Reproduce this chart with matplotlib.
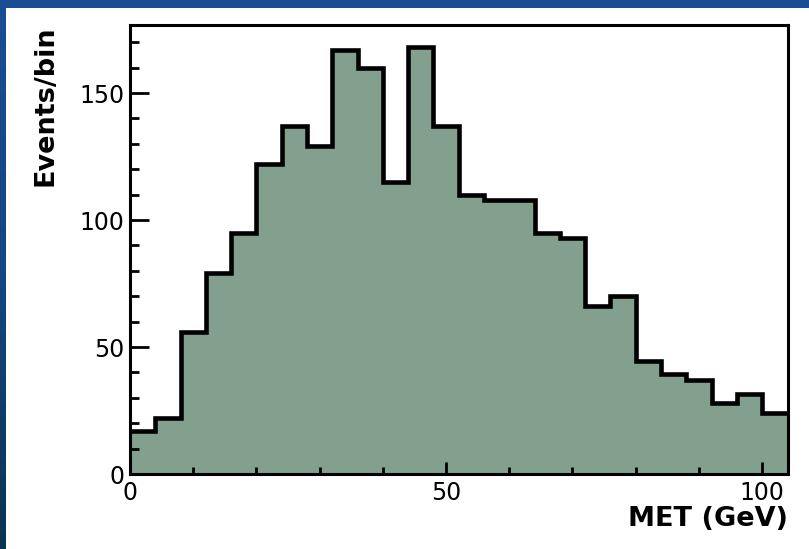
import numpy as np
import matplotlib.pyplot as plt
from matplotlib.colors import LinearSegmentedColormap
from matplotlib.patches import Rectangle
from matplotlib.ticker import MultipleLocator

# MET histogram, 4 GeV bins from 0 to 104 GeV
bin_edges = np.arange(0, 108, 4)
counts = [17, 22, 56, 79, 95, 122, 137, 129, 167, 160, 115, 168, 137,
          110, 108, 108, 95, 93, 66, 70, 44.5, 39.5, 37, 28, 31.5, 24]

x_label = 'MET (GeV)'
y_label = 'Events/bin'

fig = plt.figure(figsize=(8.09, 5.49), dpi=100)

# slide-style blue backdrop with a white panel
bg = fig.add_axes([0, 0, 1, 1], zorder=-2)
bg.set_axis_off()
blues = LinearSegmentedColormap.from_list('slide', ['#0a3450', '#124782', '#1a4d94'])
grad = np.linspace(0, 1, 256).reshape(-1, 1)
bg.imshow(grad, aspect='auto', cmap=blues, origin='lower', extent=[0, 1, 0, 1])
bg.add_patch(Rectangle((6 / 809, 0), 1, 541 / 549, facecolor='white',
                       edgecolor='none', transform=bg.transAxes))

ax = fig.add_axes([130 / 809, 75 / 549, 658 / 809, 449 / 549])
ax.set_facecolor('white')

ax.stairs(counts, bin_edges, fill=True, color='#839f8d', lw=0)
ax.stairs(counts, bin_edges, color='black', lw=3.3, baseline=None)

ax.set_xlim(0, 104.1)
ax.set_ylim(0, 176.8)

for sp in ax.spines.values():
    sp.set_linewidth(2.2)

ax.xaxis.set_major_locator(MultipleLocator(50))
ax.xaxis.set_minor_locator(MultipleLocator(10))
ax.yaxis.set_major_locator(MultipleLocator(50))
ax.yaxis.set_minor_locator(MultipleLocator(10))

ax.tick_params(axis='both', which='both', direction='in', width=2, labelsize=17)
ax.tick_params(axis='y', which='major', length=13.5, pad=4)
ax.tick_params(axis='y', which='minor', length=6.5)
ax.tick_params(axis='x', which='major', length=8.5, pad=5)
ax.tick_params(axis='x', which='minor', length=5)

ax.set_xlabel(x_label, fontsize=19.5, fontweight='bold', loc='right', labelpad=1)
ax.set_ylabel(y_label, fontsize=19.5, fontweight='bold', loc='top', labelpad=15)

fig.savefig('out.png', dpi=100)
